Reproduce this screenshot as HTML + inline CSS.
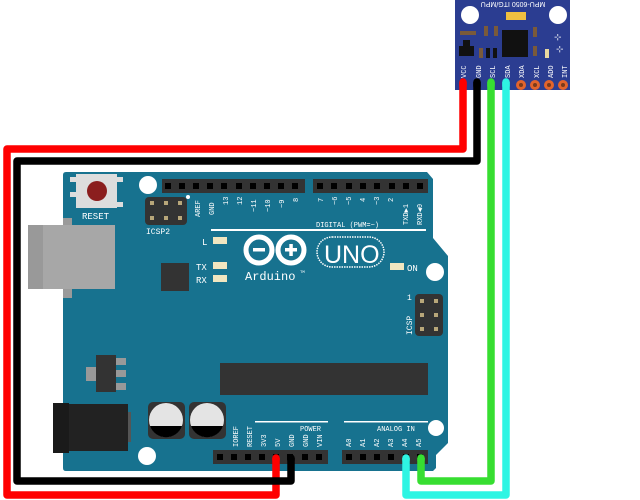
<!DOCTYPE html>
<html><head><meta charset="utf-8"><style>
html,body{margin:0;padding:0;background:#fff;}
svg{display:block}
text{font-family:"Liberation Mono","DejaVu Sans Mono",monospace;fill:#fff}
</style></head><body>
<svg width="640" height="500" viewBox="0 0 640 500" xmlns="http://www.w3.org/2000/svg">
<!-- board -->
<path d="M66,172 L427,172 L433,179 L433,238 L448,256 L448,443 L436,455 L436,468 L433,471 L66,471 Q63,471 63,468 L63,175 Q63,172 66,172 Z" fill="#17728f"/>
<!-- USB -->
<rect x="63" y="218" width="9" height="80" fill="#9a9a9a"/>
<rect x="28" y="225" width="87" height="64" fill="#a7a7a7"/>
<rect x="28" y="225" width="15" height="64" fill="#999"/>
<!-- reset -->
<rect x="70" y="177" width="7" height="5" fill="#ddd"/><rect x="70" y="192" width="7" height="5" fill="#ddd"/>
<rect x="117" y="177" width="6" height="5" fill="#ddd"/><rect x="117" y="202" width="6" height="5" fill="#ddd"/>
<rect x="76" y="174" width="41" height="34" fill="#ddd"/>
<circle cx="97" cy="191" r="10" fill="#8b1e1e"/>
<text x="82" y="219" font-size="9">RESET</text>
<circle cx="148" cy="185" r="9" fill="#fff"/>
<!-- ICSP2 -->
<rect x="145" y="197" width="42" height="28" rx="4" fill="#333"/>
<g fill="#b8a77a"><rect x="150" y="201" width="4" height="4"/><rect x="164" y="201" width="4" height="4"/><rect x="178" y="201" width="4" height="4"/><rect x="150" y="216" width="4" height="4"/><rect x="164" y="216" width="4" height="4"/><rect x="178" y="216" width="4" height="4"/></g>
<circle cx="188" cy="197" r="2" fill="#fff"/>
<text x="146" y="234" font-size="8">ICSP2</text>
<!-- digital headers -->
<rect x="162" y="179" width="143" height="14" fill="#333"/>
<rect x="313" y="179" width="115" height="14" fill="#333"/>
<g fill="#000">
<rect x="165" y="183" width="6" height="6"/><rect x="179" y="183" width="6" height="6"/><rect x="193" y="183" width="6" height="6"/><rect x="207" y="183" width="6" height="6"/><rect x="221" y="183" width="6" height="6"/><rect x="236" y="183" width="6" height="6"/><rect x="250" y="183" width="6" height="6"/><rect x="264" y="183" width="6" height="6"/><rect x="278" y="183" width="6" height="6"/><rect x="292" y="183" width="6" height="6"/>
<rect x="317" y="183" width="6" height="6"/><rect x="331" y="183" width="6" height="6"/><rect x="346" y="183" width="6" height="6"/><rect x="360" y="183" width="6" height="6"/><rect x="374" y="183" width="6" height="6"/><rect x="389" y="183" width="6" height="6"/><rect x="403" y="183" width="6" height="6"/><rect x="417" y="183" width="6" height="6"/>
</g>
<g font-size="7">
<text transform="translate(200,217) rotate(-90)">AREF</text>
<text transform="translate(214,215) rotate(-90)">GND</text>
<text transform="translate(228,205) rotate(-90)">13</text>
<text transform="translate(242,205) rotate(-90)">12</text>
<text transform="translate(256,212) rotate(-90)">~11</text>
<text transform="translate(270,212) rotate(-90)">~10</text>
<text transform="translate(284,208) rotate(-90)">~9</text>
<text transform="translate(298,202) rotate(-90)">8</text>
<text transform="translate(323,202) rotate(-90)">7</text>
<text transform="translate(337,205) rotate(-90)">~6</text>
<text transform="translate(351,205) rotate(-90)">~5</text>
<text transform="translate(365,202) rotate(-90)">4</text>
<text transform="translate(379,205) rotate(-90)">~3</text>
<text transform="translate(393,202) rotate(-90)">2</text>
<text transform="translate(408,225) rotate(-90)">TXD▶1</text>
<text transform="translate(422,225) rotate(-90)">RXD◀0</text>
<text x="316" y="227">DIGITAL (PWM=~)</text>
</g>
<rect x="211" y="229" width="215" height="2" fill="#fff"/>
<!-- LEDs -->
<text x="202" y="245" font-size="9">L</text><rect x="213" y="237" width="14" height="7" fill="#f1e6c0"/>
<text x="196" y="270" font-size="9">TX</text><rect x="213" y="262" width="14" height="7" fill="#f1e6c0"/>
<text x="196" y="283" font-size="9">RX</text><rect x="213" y="275" width="14" height="7" fill="#f1e6c0"/>
<rect x="390" y="263" width="14" height="7" fill="#f1e6c0"/><text x="407" y="271" font-size="9">ON</text>
<rect x="161" y="263" width="28" height="28" fill="#333"/>
<!-- logo -->
<g fill="none" stroke="#fff" stroke-width="5">
<circle cx="259" cy="250" r="13"/><circle cx="291" cy="250" r="13"/>
</g>
<rect x="253" y="248" width="12" height="3.5" fill="#fff"/>
<rect x="285" y="248" width="12" height="3.5" fill="#fff"/><rect x="289.3" y="244" width="3.5" height="12" fill="#fff"/>
<rect x="317" y="237" width="67" height="30" rx="15" fill="none" stroke="#fff" stroke-width="1.5" stroke-dasharray="1.5 1"/>
<text x="324" y="263" font-size="25" style="font-family:'Liberation Sans',sans-serif">UNO</text>
<text x="245" y="280" font-size="12">Arduino</text><text x="300" y="273" font-size="4">TM</text>
<circle cx="435" cy="272" r="9" fill="#fff"/>
<!-- ICSP -->
<rect x="415" y="294" width="28" height="42" rx="4" fill="#333"/>
<g fill="#b8a77a"><rect x="420" y="299" width="4" height="4"/><rect x="434" y="299" width="4" height="4"/><rect x="420" y="313" width="4" height="4"/><rect x="434" y="313" width="4" height="4"/><rect x="420" y="327" width="4" height="4"/><rect x="434" y="327" width="4" height="4"/></g>
<text x="407" y="300" font-size="8">1</text>
<text transform="translate(412,335) rotate(-90)" font-size="8">ICSP</text>
<!-- big chip -->
<rect x="220" y="363" width="208" height="32" fill="#333"/>
<!-- regulator -->
<rect x="86" y="367" width="12" height="14" fill="#999"/>
<rect x="112" y="358" width="14" height="7" fill="#999"/><rect x="112" y="370" width="14" height="7" fill="#999"/><rect x="112" y="383" width="14" height="7" fill="#999"/>
<rect x="96" y="355" width="20" height="37" fill="#333"/>
<!-- jack -->
<rect x="128" y="412" width="3" height="30" fill="#555"/>
<rect x="60" y="404" width="68" height="47" fill="#222"/>
<rect x="53" y="403" width="16" height="50" fill="#1a1a1a"/>
<!-- caps -->
<rect x="148" y="402" width="37" height="37" rx="5" fill="#333"/>
<rect x="189" y="402" width="37" height="37" rx="5" fill="#333"/>
<circle cx="166" cy="420" r="17" fill="#e4e4e4"/><path d="M150,426 A17,17 0 0 0 182,426 Z" fill="#000"/>
<circle cx="207" cy="420" r="17" fill="#e4e4e4"/><path d="M191,426 A17,17 0 0 0 223,426 Z" fill="#000"/>
<circle cx="147" cy="456" r="9" fill="#fff"/>
<circle cx="436" cy="428" r="8" fill="#fff"/>
<!-- power header -->
<rect x="255" y="421" width="73" height="1.5" fill="#fff"/>
<rect x="344" y="421" width="84" height="1.5" fill="#fff"/>
<g font-size="7">
<text x="300" y="431">POWER</text>
<text x="377" y="431">ANALOG IN</text>
<text transform="translate(238,447) rotate(-90)">IOREF</text>
<text transform="translate(252,447) rotate(-90)">RESET</text>
<text transform="translate(266,447) rotate(-90)">3V3</text>
<text transform="translate(280,447) rotate(-90)">5V</text>
<text transform="translate(294,447) rotate(-90)">GND</text>
<text transform="translate(308,447) rotate(-90)">GND</text>
<text transform="translate(322,447) rotate(-90)">VIN</text>
<text transform="translate(351,447) rotate(-90)">A0</text>
<text transform="translate(365,447) rotate(-90)">A1</text>
<text transform="translate(379,447) rotate(-90)">A2</text>
<text transform="translate(393,447) rotate(-90)">A3</text>
<text transform="translate(407,447) rotate(-90)">A4</text>
<text transform="translate(421,447) rotate(-90)">A5</text>
</g>
<rect x="213" y="450" width="115" height="14" fill="#333"/>
<rect x="342" y="450" width="86" height="14" fill="#333"/>
<g fill="#000">
<rect x="217" y="454" width="6" height="6"/><rect x="231" y="454" width="6" height="6"/><rect x="245" y="454" width="6" height="6"/><rect x="259" y="454" width="6" height="6"/><rect x="273" y="454" width="6" height="6"/><rect x="287" y="454" width="6" height="6"/><rect x="302" y="454" width="6" height="6"/><rect x="316" y="454" width="6" height="6"/>
<rect x="346" y="454" width="6" height="6"/><rect x="360" y="454" width="6" height="6"/><rect x="374" y="454" width="6" height="6"/><rect x="388" y="454" width="6" height="6"/><rect x="403" y="454" width="6" height="6"/><rect x="417" y="454" width="6" height="6"/>
</g>
<!-- MPU module -->
<rect x="455" y="0" width="115" height="90" fill="#2b3d91"/>
<circle cx="470" cy="15" r="9" fill="#fff"/><circle cx="558" cy="15" r="9" fill="#fff"/>
<rect x="506" y="12" width="20" height="8" fill="#f0c040"/>
<text x="513" y="7" font-size="7" text-anchor="middle" transform="rotate(180 513 4.5)" style="font-family:'Liberation Sans',sans-serif">MPU-6050 ITG/MPU</text>
<rect x="502" y="30" width="26" height="27" fill="#111"/>
<rect x="460" y="31" width="16" height="4" fill="#7a5a3a"/>
<rect x="463" y="40" width="7" height="8" fill="#111"/><rect x="459" y="46" width="15" height="10" fill="#111"/>
<rect x="484" y="26" width="4" height="10" fill="#7a5a3a"/><rect x="494" y="26" width="4" height="10" fill="#7a5a3a"/>
<rect x="479" y="48" width="4" height="10" fill="#7a5a3a"/><rect x="486" y="48" width="4" height="10" fill="#111"/><rect x="493" y="48" width="4" height="10" fill="#111"/>
<rect x="533" y="27" width="4" height="10" fill="#7a5a3a"/><rect x="533" y="46" width="4" height="10" fill="#7a5a3a"/><rect x="545" y="49" width="4" height="9" fill="#e8d8a0"/>
<text x="554" y="40" font-size="9">⊹</text><text x="556" y="52" font-size="9">⊹</text>
<g font-size="7" style="font-family:'Liberation Sans',sans-serif">
<text transform="translate(466,78) rotate(-90)">VCC</text>
<text transform="translate(481,78) rotate(-90)">GND</text>
<text transform="translate(495,78) rotate(-90)">SCL</text>
<text transform="translate(510,78) rotate(-90)">SDA</text>
<text transform="translate(524,78) rotate(-90)">XDA</text>
<text transform="translate(539,78) rotate(-90)">XCL</text>
<text transform="translate(553,78) rotate(-90)">ADO</text>
<text transform="translate(567,78) rotate(-90)">INT</text>
</g>
<g fill="#e2642c"><circle cx="521" cy="85" r="5"/><circle cx="535" cy="85" r="5"/><circle cx="549" cy="85" r="5"/><circle cx="563" cy="85" r="5"/></g>
<g fill="#7a3a1a"><circle cx="521" cy="85" r="2"/><circle cx="535" cy="85" r="2"/><circle cx="549" cy="85" r="2"/><circle cx="563" cy="85" r="2"/></g>
<!-- wires -->
<g fill="none" stroke-width="7.5" stroke-linejoin="round">
<path d="M463,82 L463,149 L7,149 L7,495 L276,495 L276,458" stroke="#ff0000"/>
<path d="M477,82 L477,161 L17,161 L17,481 L291,481 L291,458" stroke="#000"/>
<path d="M506,82 L506,495 L406,495 L406,458" stroke="#2ef5e3"/>
<path d="M491,82 L491,481 L421,481 L421,458" stroke="#37de31"/>
</g>
<g stroke-width="7.5" stroke-linecap="round">
<line x1="463" y1="82" x2="463" y2="86" stroke="#ff0000"/><line x1="477" y1="82" x2="477" y2="86" stroke="#000"/>
<line x1="491" y1="82" x2="491" y2="86" stroke="#37de31"/><line x1="506" y1="82" x2="506" y2="86" stroke="#2ef5e3"/>
<line x1="276" y1="458" x2="276" y2="460" stroke="#ff0000"/><line x1="291" y1="458" x2="291" y2="460" stroke="#000"/>
<line x1="406" y1="458" x2="406" y2="460" stroke="#2ef5e3"/><line x1="421" y1="458" x2="421" y2="460" stroke="#37de31"/>
</g>
</svg>
</body></html>
